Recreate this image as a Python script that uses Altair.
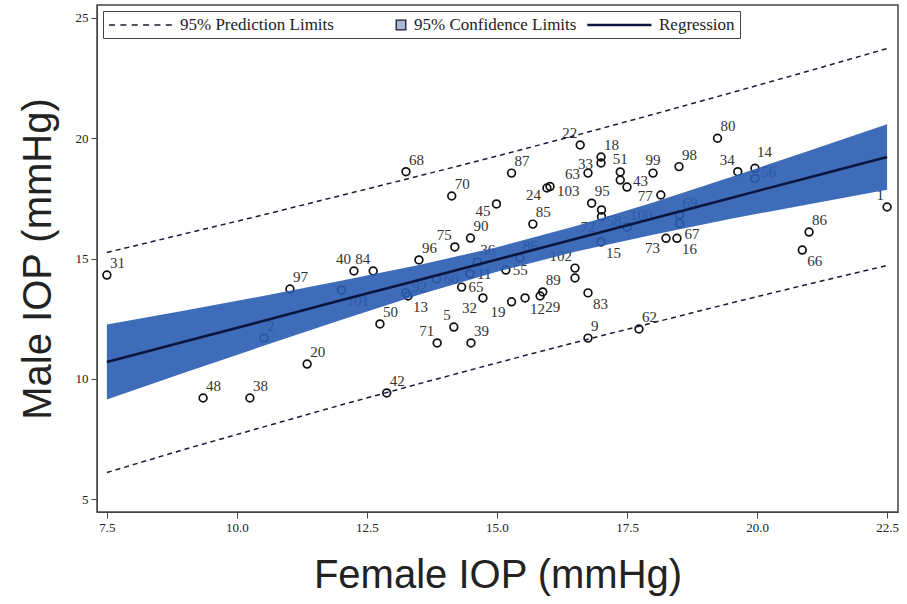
import altair as alt
import pandas as pd

# ---------------- data ----------------
point_id = ["31", "97", "2", "20", "48", "38", "40", "84", "101", "68",
            "92", "13", "50", "96", "75", "90", "70", "45", "87", "60",
            "11", "36", "65", "32", "5", "71", "39", "42", "55", "86",
            "19", "12", "29", "89", "85", "24", "103", "102", "", "22",
            "18", "33", "63", "51", "", "43", "77", "99", "98", "80",
            "34", "14", "56", "95", "58", "72", "100", "69", "67", "73",
            "16", "15", "83", "9", "62", "86", "66", "1"]
female = [7.50, 11.02, 10.52, 11.35, 9.35, 10.25, 12.25, 12.62, 12.01, 13.25,
          13.25, 13.29, 12.75, 13.50, 14.19, 14.49, 14.13, 14.99, 15.28, 13.84,
          14.48, 14.62, 14.32, 14.73, 14.17, 13.85, 14.50, 12.88, 15.17, 15.44,
          15.28, 15.54, 15.83, 15.88, 15.69, 15.96, 16.02, 16.50, 16.50, 16.60,
          17.00, 17.00, 16.75, 17.37, 17.37, 17.50, 18.15, 18.00, 18.50, 19.24,
          19.63, 19.96, 19.96, 16.82, 17.01, 17.01, 17.50, 18.51, 18.51, 18.25,
          18.46, 17.00, 16.75, 16.75, 17.73, 21.00, 20.87, 22.50]
male = [14.31, 13.73, 11.69, 10.61, 9.20, 9.20, 14.48, 14.48, 13.69, 18.61,
        13.57, 13.44, 12.28, 14.94, 15.48, 15.85, 17.60, 17.27, 18.55, 14.15,
        14.36, 14.85, 13.81, 13.36, 12.15, 11.49, 11.49, 9.41, 14.52, 15.02,
        13.20, 13.36, 13.44, 13.61, 16.43, 17.93, 17.99, 14.60, 14.19, 19.72,
        19.22, 18.97, 18.55, 18.60, 18.26, 17.97, 17.64, 18.55, 18.82, 20.00,
        18.61, 18.75, 18.33, 17.30, 17.02, 16.74, 16.30, 16.81, 16.46, 15.84,
        15.84, 15.69, 13.57, 11.69, 12.07, 16.10, 15.35, 17.14]
label_side = ["NE", "NE", "NE", "NE", "NE", "NE", "NW", "NW", "SE", "NE",
              "ENE", "SE", "NE", "NE", "NW", "NE", "NE", "WSW", "NE", "E",
              "E", "NE", "E", "SW", "NW", "NW", "NE", "NE", "E", "NE",
              "SW", "SE", "SE", "NE", "NE", "WSW", "ESE", "NW", "E", "NW",
              "NE", "W", "W", "N", "E", "ENE", "W", "N", "NE", "NE",
              "NW", "NNE", "ENE", "NE", "SE", "SW", "NE", "NE", "SE", "SW",
              "SE", "SE", "SE", "NE", "NE", "NE", "SE", "NW"]

band_x = [7.5, 9.0, 10.5, 12.0, 13.5, 15.0, 16.5, 18.0, 19.5, 21.0, 22.5]
fit = [10.70, 11.55, 12.40, 13.26, 14.11, 14.96, 15.81, 16.66, 17.52, 18.37, 19.22]
cl_lower = [9.14, 10.26, 11.36, 12.44, 13.49, 14.45, 15.28, 15.99, 16.65, 17.26, 17.86]
cl_upper = [12.26, 12.84, 13.44, 14.08, 14.73, 15.47, 16.34, 17.33, 18.39, 19.48, 20.58]
pl_lower = [6.10, 7.07, 7.99, 8.91, 9.79, 10.66, 11.51, 12.33, 13.15, 13.94, 14.71]
pl_upper = [15.25, 16.03, 16.81, 17.62, 18.43, 19.26, 20.11, 20.99, 21.89, 22.80, 23.73]

series = ["95% Prediction Limits", "95% Confidence Limits", "Regression"]
x_ticks = [7.5, 10.0, 12.5, 15.0, 17.5, 20.0, 22.5]
y_ticks = [5, 10, 15, 20, 25]

# ---------------- tables ----------------
pts = pd.DataFrame({"female": female, "male": male, "id": point_id, "side": label_side})
band = pd.DataFrame({"female": band_x, "fit": fit, "cl_lo": cl_lower, "cl_hi": cl_upper,
                     "pl_lo": pl_lower, "pl_hi": pl_upper})
leg = pd.DataFrame({"series": series, "female": [0, 0, 0], "male": [0, 0, 0]})

xscale = alt.Scale(domain=[7.31, 22.71], nice=False, zero=False)
yscale = alt.Scale(domain=[4.46, 25.54], nice=False, zero=False)

X = alt.X("female:Q", scale=xscale,
          axis=alt.Axis(values=x_ticks, format=".1f", title="Female IOP (mmHg)", titlePadding=21))
Y = alt.Y("male:Q", scale=yscale,
          axis=alt.Axis(values=y_ticks, format="d", title="Male IOP (mmHg)", titlePadding=17))

scatter = alt.Chart(pts).mark_point(shape="circle", filled=False, stroke="#111111",
                                    strokeWidth=1.7, size=60, opacity=1).encode(x=X, y=Y)

side_style = {
    "NE": dict(align="left", dx=3, dy=-7),
    "NNE": dict(align="left", dx=2, dy=-11),
    "ENE": dict(align="left", dx=6, dy=-1),
    "NW": dict(align="right", dx=-3, dy=-7),
    "SE": dict(align="left", dx=5, dy=16),
    "SW": dict(align="right", dx=-6, dy=15),
    "WSW": dict(align="right", dx=-6, dy=12),
    "E": dict(align="left", dx=7, dy=5),
    "ESE": dict(align="left", dx=7, dy=9),
    "W": dict(align="right", dx=-8, dy=6),
    "N": dict(align="center", dx=0, dy=-8),
}
label_layers = []
for side, st in side_style.items():
    label_layers.append(
        alt.Chart(pts).transform_filter(
            f"datum.side == '{side}' && datum.id != ''"
        ).mark_text(font="Liberation Serif", fontSize=15, color="#333333",
                    baseline="alphabetic", **st).encode(
            x=alt.X("female:Q", scale=xscale), y=alt.Y("male:Q", scale=yscale), text="id:N")
    )

ci = alt.Chart(band).mark_area(color="#2a5cb0", opacity=0.9).encode(
    x=alt.X("female:Q", scale=xscale),
    y=alt.Y("cl_lo:Q", scale=yscale),
    y2="cl_hi:Q")

pl_up = alt.Chart(band).mark_line(color="#1b1b3a", strokeWidth=1.5, strokeDash=[5, 4]).encode(
    x=alt.X("female:Q", scale=xscale), y=alt.Y("pl_hi:Q", scale=yscale))
pl_lo = alt.Chart(band).mark_line(color="#1b1b3a", strokeWidth=1.5, strokeDash=[5, 4]).encode(
    x=alt.X("female:Q", scale=xscale), y=alt.Y("pl_lo:Q", scale=yscale))
reg = alt.Chart(band).mark_line(color="#0a1640", strokeWidth=2.6).encode(
    x=alt.X("female:Q", scale=xscale), y=alt.Y("fit:Q", scale=yscale))

# legend glyphs (unit = 8 px with symbolSize 256), drawn to the right of the symbol slot
dash_path = ("M-1,0H-0.25M0.42,0H1.17M1.84,0H2.59"
             "M3.26,0H4.01M4.68,0H5.43M6.1,0H6.85")
square_path = "M5.65,-0.6H6.85V0.6H5.65Z"
line_path = "M-1,-0.08H6.85V0.08H-1Z"

legend = alt.Legend(title=None, orient="top-left", direction="horizontal", offset=6,
                    padding=5, strokeColor="#444444", fillColor="white",
                    labelFont="Liberation Serif", labelFontSize=17, labelColor="#222222",
                    labelOffset=54, columnPadding=8, symbolSize=256,
                    symbolStrokeWidth=1.3, symbolStrokeColor="#1a1a2e", labelLimit=0)

legend_layer = alt.Chart(leg).mark_point(filled=True, clip=True, opacity=1,
                                         strokeWidth=1.3).encode(
    x=alt.X("female:Q", scale=xscale),
    y=alt.Y("male:Q", scale=yscale),
    shape=alt.Shape("series:N", scale=alt.Scale(domain=series,
                                                range=[dash_path, square_path, line_path]),
                    legend=legend),
    fill=alt.Fill("series:N", scale=alt.Scale(domain=series,
                                              range=["transparent", "#a9b7d6", "#0a1640"]),
                  legend=legend),
    stroke=alt.Stroke("series:N", scale=alt.Scale(domain=series,
                                                  range=["#1a1a2e", "#1a1a2e", "#0a1640"]),
                      legend=legend),
)

chart = alt.layer(scatter, *label_layers, ci, pl_up, pl_lo, reg, legend_layer).properties(
    width=801, height=507,
    padding={"left": 97, "top": 5, "right": 9, "bottom": 92},
    autosize=alt.AutoSizeParams(type="none"),
).configure_axis(
    labelFont="Liberation Serif", labelFontSize=13, labelColor="#222222",
    tickColor="#444444", domainColor="#444444", tickSize=6, labelPadding=3,
    titleFont="Liberation Sans", titleFontSize=40, titleFontWeight="normal",
    titleColor="#222222", grid=False,
).configure_view(stroke="#444444", strokeWidth=1.5)

chart.save("out.html", embed_options={"renderer": "svg", "actions": False})
